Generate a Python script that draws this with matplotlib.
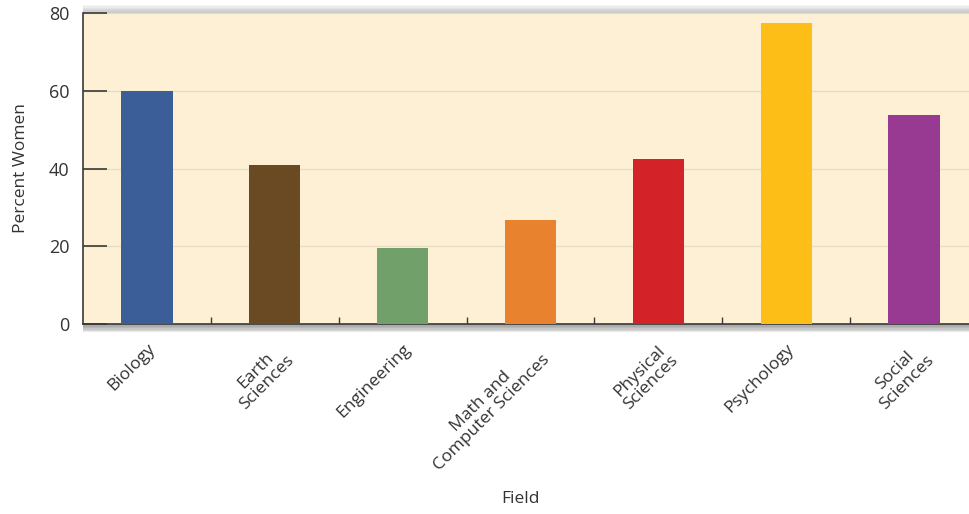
import matplotlib.pyplot as plt
import matplotlib.patheffects as pe
import numpy as np

plt.rcParams['font.family'] = ['Open Sans', 'DejaVu Sans']

# data
fields = ['Biology', 'Earth\nSciences', 'Engineering', 'Math and\nComputer Sciences',
          'Physical\nSciences', 'Psychology', 'Social\nSciences']
pct_women = [60, 41, 19.5, 26.7, 42.5, 77.5, 53.7]
bar_colors = ['#3B5E98', '#6A4A23', '#72A06A', '#E8822F', '#D32328', '#FDBF17', '#993A92']

fig = plt.figure(figsize=(9.69, 5.14), dpi=100)
ax = fig.add_axes([0.0857, 0.3696, 0.9143, 0.605])
ax.set_facecolor('#FDF0D5')
# soft drop shadow above and below the plot area
shadow = []
for d in [1, 2, 3, 4, 5, 6]:
    shadow.append(pe.SimplePatchShadow(offset=(0, -d), shadow_rgbFace='#555555', alpha=0.12))
    shadow.append(pe.SimplePatchShadow(offset=(0, d), shadow_rgbFace='#555555', alpha=0.06))
shadow.append(pe.Normal())
ax.patch.set_path_effects(shadow)

x = np.arange(len(fields))
ax.bar(x, pct_women, width=0.4, color=bar_colors, zorder=3)

ax.set_xlim(-0.5, 6.43)
ax.set_ylim(0, 80)
ax.set_yticks([0, 20, 40, 60, 80])
ax.yaxis.grid(True, color='#E6DCC8', linewidth=1, zorder=0)
ax.tick_params(axis='y', direction='in', length=17, width=1.2, color='#3a3a3a',
               labelsize=13, labelcolor='#333333', pad=10)

ax.set_xticks(x)
ax.set_xticklabels(fields, rotation=45, ha='right', rotation_mode='anchor',
                   multialignment='center', linespacing=1.0, fontsize=12.6, color='#333333')
ax.tick_params(axis='x', length=0, pad=12)
ax.set_xticks(x[:-1] + 0.5, minor=True)
ax.tick_params(axis='x', which='minor', direction='in', length=5, width=1, color='#3a3a3a')

for s in ['top', 'right']:
    ax.spines[s].set_visible(False)
for s in ['left', 'bottom']:
    ax.spines[s].set_color('#3a3a3a')
    ax.spines[s].set_linewidth(1.2)

ax.set_ylabel('Percent Women', fontsize=12.5, color='#333333', labelpad=14)
ax.set_xlabel('Field', fontsize=12.5, color='#333333')
ax.xaxis.set_label_coords(0.537, 0.045, transform=fig.transFigure)

fig.savefig('out.png', dpi=100)
